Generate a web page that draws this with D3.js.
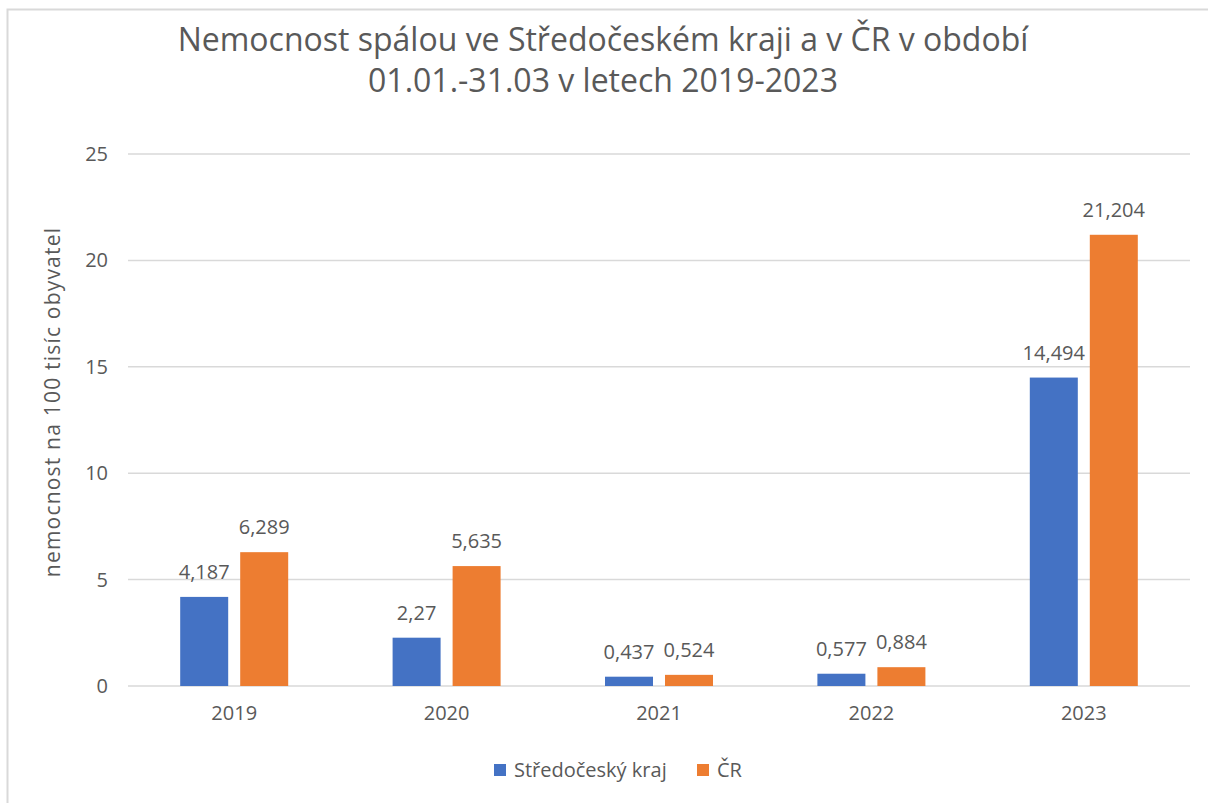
<!DOCTYPE html>
<html lang="cs">
<head>
<meta charset="UTF-8">
<title>Nemocnost spálou</title>
<script src="https://cdn.jsdelivr.net/npm/d3@7"></script>
<style>
  body { margin: 0; background: #fff; }
  text { font-family: "Open Sans", "DejaVu Sans", sans-serif; fill: #595959; }
</style>
</head>
<body>
<script>
// data
const years = ['2019', '2020', '2021', '2022', '2023']
const seriesNames = ['Středočeský kraj', 'ČR']
const stredocesky = [4.187, 2.27, 0.437, 0.577, 14.494]
const cr = [6.289, 5.635, 0.524, 0.884, 21.204]
const stredoceskyLabels = ['4,187', '2,27', '0,437', '0,577', '14,494']
const crLabels = ['6,289', '5,635', '0,524', '0,884', '21,204']
const yTicks = [0, 5, 10, 15, 20, 25]
const colors = ['#4472c4', '#ed7d31']

const width = 1208
const height = 803
const margin = { top: 154, right: 18, bottom: 117, left: 128 }

const svg = d3.select('body').append('svg')
  .attr('width', width)
  .attr('height', height)

// chart frame
svg.append('rect')
  .attr('x', 7.5).attr('y', 9.5)
  .attr('width', width + 10).attr('height', height + 10)
  .attr('fill', 'none')
  .attr('stroke', '#d9d9d9')
  .attr('stroke-width', 2)

const x = d3.scaleBand()
  .domain(years)
  .range([margin.left, width - margin.right])

const y = d3.scaleLinear()
  .domain([0, 25])
  .range([height - margin.bottom, margin.top])

// gridlines
svg.append('g')
  .selectAll('line')
  .data(yTicks)
  .join('line')
  .attr('x1', margin.left).attr('x2', 1190)
  .attr('y1', d => y(d)).attr('y2', d => y(d))
  .attr('stroke', '#d9d9d9')
  .attr('stroke-width', 1.5)

// y axis labels
const yAxis = d3.axisLeft(y).tickValues(yTicks).tickSize(0).tickPadding(20)
svg.append('g')
  .attr('transform', `translate(${margin.left}, 0)`)
  .call(yAxis)
  .call(g => g.select('.domain').remove())
  .selectAll('text')
  .attr('font-size', 20)
  .style('font-family', '"Open Sans", sans-serif')
  .attr('fill', '#595959')

// x axis labels
const xAxis = d3.axisBottom(x).tickSize(0).tickPadding(20)
svg.append('g')
  .attr('transform', `translate(0, ${y(0)})`)
  .call(xAxis)
  .call(g => g.select('.domain').remove())
  .selectAll('text')
  .attr('font-size', 20)
  .style('font-family', '"Open Sans", sans-serif')
  .attr('fill', '#595959')

const barW = 48
const gap = 6
const series = [stredocesky, cr]
const labels = [stredoceskyLabels, crLabels]

series.forEach((vals, s) => {
  const off = s === 0 ? -gap - barW : gap
  svg.append('g')
    .selectAll('rect')
    .data(vals)
    .join('rect')
    .attr('x', (d, i) => x(years[i]) + x.bandwidth() / 2 + off)
    .attr('y', d => y(d))
    .attr('width', barW)
    .attr('height', d => y(0) - y(d))
    .attr('fill', colors[s])

  svg.append('g')
    .selectAll('text')
    .data(vals)
    .join('text')
    .attr('x', (d, i) => x(years[i]) + x.bandwidth() / 2 + off + barW / 2)
    .attr('y', d => y(d) - 18)
    .attr('text-anchor', 'middle')
    .attr('font-size', 20)
    .text((d, i) => labels[s][i])
})

// title
svg.append('text')
  .attr('x', 603).attr('y', 51)
  .attr('text-anchor', 'middle')
  .attr('font-size', 32)
  .text('Nemocnost spálou ve Středočeském kraji a v ČR v období')
svg.append('text')
  .attr('x', 603).attr('y', 92)
  .attr('text-anchor', 'middle')
  .attr('font-size', 32)
  .text('01.01.-31.03 v letech 2019-2023')

// y axis title
svg.append('text')
  .attr('transform', `translate(60, 402) rotate(-90)`)
  .attr('text-anchor', 'middle')
  .attr('font-size', 21)
  .attr('letter-spacing', 1.2)
  .attr('fill', '#404040')
  .text('nemocnost na 100 tisíc obyvatel')

// legend
const legendX = [494, 697]
seriesNames.forEach((name, s) => {
  svg.append('rect')
    .attr('x', legendX[s]).attr('y', 764)
    .attr('width', 12).attr('height', 12)
    .attr('fill', colors[s])
  svg.append('text')
    .attr('x', legendX[s] + 20).attr('y', 777)
    .attr('font-size', 20)
    .text(name)
})
</script>
</body>
</html>
